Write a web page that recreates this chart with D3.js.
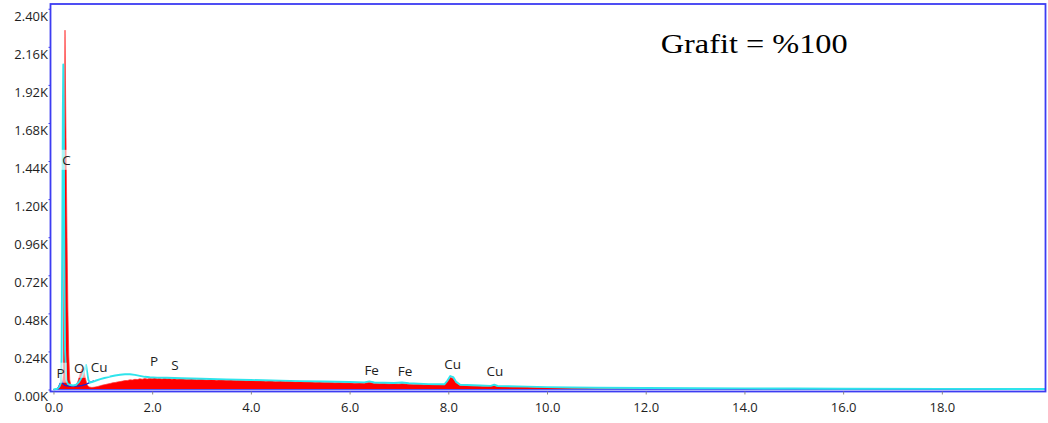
<!DOCTYPE html>
<html>
<head>
<meta charset="utf-8">
<script src="https://cdn.jsdelivr.net/npm/d3@7"></script>
<style>
  html, body { margin: 0; padding: 0; background: #fff; }
  svg { display: block; }
</style>
</head>
<body>
<svg id="chart" width="1048" height="423"></svg>
<script>
// EDS spectrum, energy in keV, counts in thousands (K)

// Measured spectrum (filled red): [keV, counts]
const redSpectrum = [
  [0,0],[0.06,2],[0.10,10],[0.13,32],[0.16,52],[0.185,45],[0.20,100],[0.212,700],
  [0.225,1800],[0.234,2265],[0.243,1950],[0.253,1650],[0.265,1250],[0.278,880],[0.292,520],
  [0.31,220],[0.33,60],[0.36,18],[0.42,17],[0.46,24],[0.50,55],[0.54,100],[0.57,128],
  [0.59,133],[0.62,112],[0.65,68],[0.68,30],[0.72,16],[0.78,13],[0.84,15],[0.90,19],
  [0.95,24],[1.0,28],[1.05,31],[1.1,35],[1.15,38],[1.2,42],[1.25,44],[1.3,48],[1.35,50],
  [1.4,53],[1.45,56],[1.5,57],[1.55,61],[1.6,60],[1.65,64],[1.7,63],[1.75,67],[1.8,65],
  [1.85,69],[1.9,66],[1.95,70],[2.0,68],[2.05,72],[2.1,67],[2.15,70],[2.2,66],[2.25,71],
  [2.3,67],[2.35,69],[2.4,65],[2.45,68],[2.5,64],[2.6,67],[2.7,63],[2.8,66],[2.9,62],
  [3.0,64],[3.1,60],[3.2,63],[3.3,59],[3.4,61],[3.5,58],[3.6,60],[3.7,56],[3.8,59],
  [3.9,55],[4.0,57],[4.1,54],[4.2,56],[4.3,52],[4.4,55],[4.5,51],[4.6,53],[4.7,50],
  [4.8,52],[4.9,48],[5.0,50],[5.1,47],[5.2,49],[5.3,45],[5.4,47],[5.5,44],[5.6,46],
  [5.7,42],[5.8,44],[5.9,41],[6.0,42],[6.1,39],[6.2,41],[6.3,39],[6.4,45],[6.5,38],
  [6.6,37],[6.7,38],[6.8,35],[6.9,37],[7.0,34],[7.06,38],[7.15,34],[7.3,32],[7.4,33],
  [7.5,30],[7.6,31],[7.7,29],[7.8,30],[7.92,29],[7.98,50],[8.04,77],[8.10,70],[8.16,42],
  [8.24,26],[8.4,24],[8.5,22],[8.6,23],[8.7,20],[8.8,21],[8.92,25],[9.0,19],[9.1,18],
  [9.2,19],[9.3,16],[9.4,17],[9.5,15],[9.6,15],[9.8,13],[10.0,12],[10.2,11],[10.4,10],
  [10.6,9],[10.8,9],[11.0,8],[11.3,7],[11.6,6],[12.0,5],[12.4,4],[12.8,3],[13.2,2],
  [13.6,1],[14.0,0],[20.09,0]
];

// Reference spectrum (cyan trace): [keV, counts]
const cyanSpectrum = [
  [0,0],[0.08,5],[0.12,18],[0.15,40],[0.165,200],[0.178,900],[0.19,1750],[0.199,2049],
  [0.208,1750],[0.22,850],[0.235,250],[0.26,60],[0.29,35],[0.34,28],[0.40,26],[0.46,30],
  [0.52,48],[0.58,80],[0.63,125],[0.66,155],[0.685,105],[0.71,58],[0.74,44],[0.78,47],
  [0.85,55],[0.95,65],[1.05,74],[1.15,82],[1.25,88],[1.35,93],[1.45,96],[1.55,96],
  [1.65,92],[1.75,86],[1.85,80],[1.95,77],[2.1,75],[2.3,74],[2.6,71],[3.0,68],[3.5,64],
  [4.0,60],[4.6,56],[5.0,53],[5.5,50],[6.0,47],[6.3,45],[6.4,51],[6.5,44],[6.9,41],
  [7.06,44],[7.2,39],[7.6,34],[7.92,33],[7.98,55],[8.04,85],[8.10,78],[8.16,48],
  [8.24,30],[8.64,25],[8.86,23],[8.93,30],[9.0,22],[9.6,18],[10.0,15],[10.5,13],
  [11.0,11],[12.0,9],[13.0,8],[14.0,7],[15,6],[16,5],[18,4],[20.09,3]
];

// Background fit near the low-energy lines: [keV, counts]
const fitCurve = [
  [0.05,0],[0.10,12],[0.14,40],[0.165,55],[0.19,38],[0.23,26],[0.30,22],[0.40,21],
  [0.50,22],[0.58,25],[0.66,32],[0.72,42],[0.78,50],[0.82,54]
];

// Peak labels: element, label keV, label height in counts
const peakLabels = [
  ["P", 0.146, 104], ["O", 0.523, 135], ["Cu", 0.928, 142], ["C", 0.267, 1446],
  ["P", 2.036, 175], ["S", 2.462, 154], ["Fe", 6.448, 123], ["Fe", 7.123, 118],
  ["Cu", 8.089, 161], ["Cu", 8.946, 118]
];

const xTicks = [0, 2, 4, 6, 8, 10, 12, 14, 16, 18];
const yTicks = [0, 0.24, 0.48, 0.72, 0.96, 1.20, 1.44, 1.68, 1.92, 2.16, 2.40];
const titleText = "Grafit = %100";

const svg = d3.select("#chart");
const plot = { left: 50.5, right: 1045.5, top: 4, bottom: 391.5 };

const x = d3.scaleLinear().domain([-0.07, 20.09]).range([50, 1045]);
const y = d3.scaleLinear().domain([0, 2.43]).range([389.5, 4]);
const k = c => c / 1000;

svg.append("defs").append("clipPath").attr("id", "plotClip")
  .append("rect")
  .attr("x", plot.left).attr("y", plot.top)
  .attr("width", plot.right - plot.left).attr("height", plot.bottom - plot.top);

const g = svg.append("g").attr("clip-path", "url(#plotClip)");

// red filled spectrum
const area = d3.area()
  .x(d => x(d[0]))
  .y0(y(0))
  .y1(d => y(k(d[1])));
g.append("path")
  .datum(redSpectrum)
  .attr("d", area)
  .attr("fill", "#ff0000")
  .attr("stroke", "#ff3030")
  .attr("stroke-width", 0.7);

// baseline / fit line
const line = d3.line().x(d => x(d[0])).y(d => y(k(d[1])));
g.append("line")
  .attr("x1", x(0)).attr("x2", x(20.09))
  .attr("y1", y(0)).attr("y2", y(0))
  .attr("stroke", "#5a5af0").attr("stroke-width", 1);
g.append("path")
  .datum(fitCurve)
  .attr("d", line)
  .attr("fill", "none")
  .attr("stroke", "#2323c8")
  .attr("stroke-width", 1.4);

// cyan trace
g.append("path")
  .datum(cyanSpectrum)
  .attr("d", line)
  .attr("fill", "none")
  .attr("stroke", "#2ee4ec")
  .attr("stroke-width", 1.9)
  .attr("stroke-linejoin", "round");

// peak labels with translucent boxes
const labelG = svg.append("g")
  .attr("font-family", "'Open Sans', sans-serif")
  .attr("font-size", 13.5)
  .attr("fill", "#1e1e1e");
peakLabels.forEach(([name, e, c]) => {
  const cx = x(e), cy = y(k(c));
  const t = labelG.append("text")
    .attr("x", cx).attr("y", cy)
    .attr("text-anchor", "middle")
    .attr("dy", "0.35em")
    .text(name);
  const bb = t.node().getBBox();
  labelG.insert("rect", "text")
    .attr("x", bb.x - 2).attr("y", bb.y - 1)
    .attr("width", bb.width + 4).attr("height", bb.height + 2)
    .attr("fill", "#ffffff").attr("fill-opacity", 0.6);
});

// frame
svg.append("rect")
  .attr("x", plot.left).attr("y", plot.top)
  .attr("width", plot.right - plot.left).attr("height", plot.bottom - plot.top)
  .attr("fill", "none")
  .attr("stroke", "#3c3cf2")
  .attr("stroke-width", 1.8);

// y axis
const yAxis = svg.append("g")
  .attr("transform", `translate(${plot.left},0)`)
  .call(d3.axisLeft(y).tickValues(yTicks).tickSize(2).tickPadding(0.5)
    .tickFormat(d => d.toFixed(2) + "K"));
yAxis.select(".domain").remove();
yAxis.selectAll(".tick line").attr("stroke", "#3c3cf2");
yAxis.selectAll("text")
  .attr("font-family", "'Open Sans', sans-serif")
  .attr("font-size", 13)
  .attr("fill", "#1e1e1e")
  .attr("dy", "0.88em");

// x axis
const xAxis = svg.append("g")
  .attr("transform", `translate(0,${plot.bottom})`)
  .call(d3.axisBottom(x).tickValues(xTicks).tickSize(3).tickPadding(8)
    .tickFormat(d => d.toFixed(1)));
xAxis.select(".domain").remove();
xAxis.selectAll(".tick line").attr("stroke", "#888");
xAxis.selectAll("text")
  .attr("font-family", "'Open Sans', sans-serif")
  .attr("font-size", 13)
  .attr("fill", "#1e1e1e");

// title
svg.append("text")
  .attr("x", 660.7).attr("y", 53.3)
  .attr("font-family", "'Liberation Serif', 'Times New Roman', serif")
  .attr("font-size", 28)
  .attr("textLength", 187)
  .attr("lengthAdjust", "spacingAndGlyphs")
  .attr("fill", "#000")
  .text(titleText);
</script>
</body>
</html>
